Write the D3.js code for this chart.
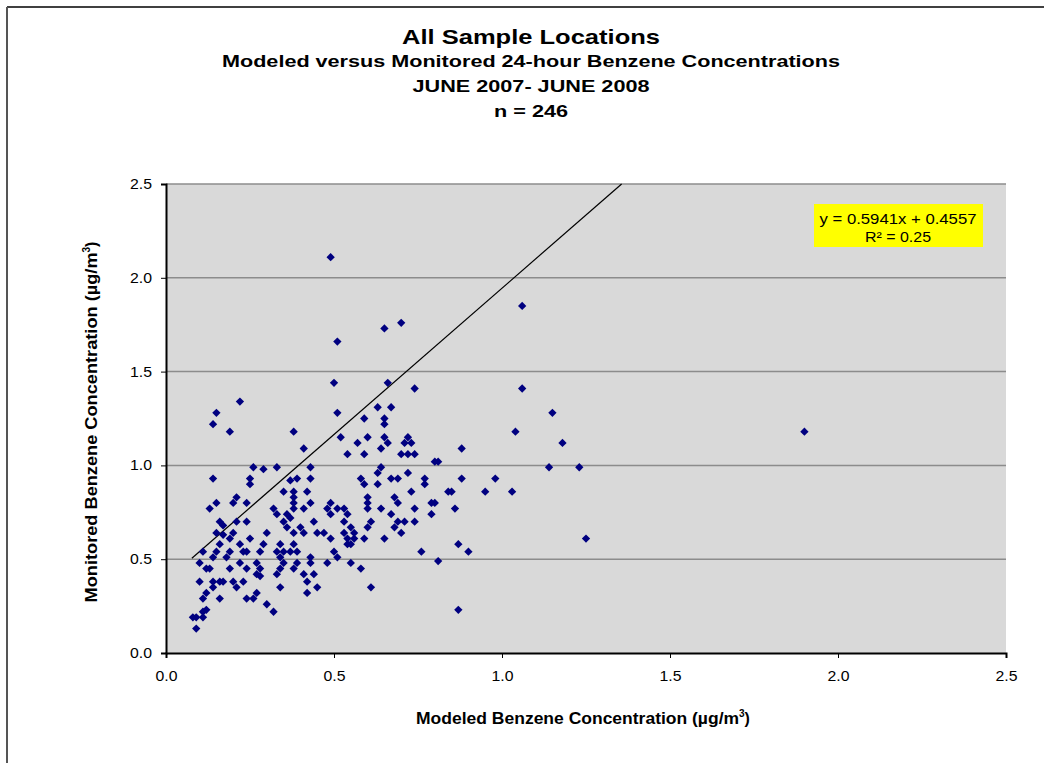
<!DOCTYPE html>
<html><head><meta charset="utf-8">
<script src="https://cdn.jsdelivr.net/npm/d3@7"></script>
<style>body{margin:0;background:#fff}svg{display:block;font-family:"Liberation Sans",Arial,sans-serif}</style>
</head><body><svg id="c" width="1044" height="763"></svg>
<script>
const titleLines = ["All Sample Locations","Modeled versus Monitored 24-hour Benzene Concentrations","JUNE 2007- JUNE 2008","n = 246"];
const xTicks = [0,0.5,1.0,1.5,2.0,2.5];
const yTicks = [0,0.5,1.0,1.5,2.0,2.5];
const modeled = [
0.22,0.15,0.14,0.19,0.38,0.41,0.26,0.29,0.33,0.43,0.14,0.25,0.39,0.37,0.43,0.25,0.35,0.38,0.42,0.21,0.38,
0.15,0.2,0.24,0.38,0.43,0.13,0.32,0.38,0.41,0.48,0.33,0.36,0.37,0.16,0.21,0.24,0.35,0.44,0.17,0.36,0.4,
0.15,0.2,0.3,0.38,0.41,0.45,0.47,0.17,0.19,0.25,0.16,0.22,0.29,0.34,0.38,
0.11,0.15,0.19,0.23,0.24,0.28,0.33,0.35,0.37,0.39,0.14,0.18,0.34,0.43,
0.1,0.22,0.27,0.35,0.39,0.43,0.48,0.12,0.13,0.19,0.24,0.28,0.34,0.38,
0.27,0.28,0.33,0.41,0.44,0.1,0.14,0.16,0.17,0.2,0.23,0.42,0.14,0.21,0.34,0.45,
0.12,0.27,0.42,0.11,0.16,0.24,0.26,0.3,0.11,0.12,0.32,0.08,0.09,0.11,0.09,
0.5,0.66,0.74,0.63,0.67,0.51,0.59,0.65,0.65,0.52,0.6,0.65,0.72,0.57,0.66,0.71,0.73,0.64,0.88,
0.54,0.59,0.7,0.72,0.74,0.8,0.81,0.64,0.63,0.72,0.58,0.67,0.69,0.77,0.88,0.59,0.63,0.77,
0.73,0.84,0.85,0.6,0.68,0.49,0.6,0.69,0.79,0.8,0.51,0.53,0.6,0.64,0.74,0.86,
0.49,0.54,0.67,0.79,0.53,0.61,0.69,0.71,0.74,0.55,0.6,0.68,0.53,0.56,0.7,
0.49,0.54,0.56,0.59,0.65,0.54,0.55,0.87,0.5,0.76,0.9,0.51,0.55,0.81,0.58,0.61,0.87,
1.06,1.06,1.15,1.04,1.18,1.14,1.23,0.98,0.95,1.03,1.25,1.9,
0.49,0.51,0.65,0.7
];
const monitored = [
1.34,1.28,1.22,1.18,1.18,1.09,0.99,0.98,0.99,0.99,0.93,0.93,0.93,0.92,0.93,0.9,0.86,0.86,0.86,0.83,0.83,
0.8,0.8,0.8,0.8,0.8,0.77,0.77,0.77,0.77,0.77,0.74,0.74,0.72,0.7,0.7,0.7,0.7,0.7,0.68,0.67,0.67,
0.64,0.64,0.64,0.64,0.64,0.64,0.64,0.63,0.61,0.61,0.58,0.58,0.58,0.58,0.58,
0.54,0.54,0.54,0.54,0.54,0.54,0.54,0.54,0.54,0.54,0.51,0.51,0.51,0.51,
0.48,0.48,0.48,0.48,0.48,0.48,0.48,0.45,0.45,0.45,0.45,0.45,0.45,0.45,
0.42,0.41,0.42,0.42,0.42,0.38,0.38,0.38,0.38,0.38,0.38,0.38,0.35,0.35,0.35,0.35,
0.32,0.32,0.32,0.29,0.29,0.29,0.29,0.26,0.22,0.23,0.22,0.19,0.19,0.19,0.13,
1.44,1.44,1.41,1.31,1.31,1.28,1.25,1.25,1.22,1.15,1.15,1.15,1.15,1.12,1.12,1.12,1.12,1.09,1.09,
1.06,1.06,1.06,1.06,1.06,1.02,1.02,0.99,0.96,0.96,0.93,0.93,0.93,0.93,0.93,0.9,0.9,0.9,
0.86,0.86,0.86,0.83,0.83,0.8,0.8,0.8,0.8,0.8,0.77,0.77,0.77,0.77,0.77,0.77,
0.74,0.74,0.74,0.74,0.7,0.7,0.7,0.7,0.7,0.67,0.67,0.67,0.64,0.64,0.64,
0.61,0.61,0.61,0.61,0.61,0.58,0.58,0.58,0.54,0.54,0.54,0.51,0.48,0.49,0.45,0.35,0.23,
1.85,1.41,1.28,1.18,1.12,0.99,0.99,0.93,0.86,0.86,0.61,1.18,
2.11,1.66,1.73,1.76
];
const lineX = [0.077,1.356];
const lineY = [0.505,2.5];
const eqText = ["y = 0.5941x + 0.4557","R² = 0.25"];

const svg = d3.select("#c");
const L=166,R=1006,T=184,B=653;
const x = d3.scaleLinear().domain([0,2.5]).range([L,R]);
const y = d3.scaleLinear().domain([0,2.5]).range([B,T]);

// outer border
svg.append("line").attr("x1",7).attr("x2",1044).attr("y1",7).attr("y2",7).attr("stroke","#000").attr("stroke-width",1.5);
svg.append("line").attr("x1",7).attr("x2",7).attr("y1",7).attr("y2",763).attr("stroke","#555").attr("stroke-width",2);

// titles
const tsz=[21,17,17,17], ty=[44,67,92,117], tlen=[258,618,237,74];
titleLines.forEach((t,i)=>svg.append("text").attr("x",531).attr("y",ty[i]).attr("text-anchor","middle")
  .attr("font-weight","bold").attr("font-size",tsz[i]).attr("textLength",tlen[i]).attr("lengthAdjust","spacingAndGlyphs").text(t));

// plot bg
svg.append("rect").attr("x",L).attr("y",T).attr("width",R-L).attr("height",B-T).attr("fill","#D9D9D9");
// grid
svg.append("g").selectAll("line").data(yTicks.filter(d=>d>0)).join("line")
  .attr("x1",L).attr("x2",R).attr("y1",d=>y(d)).attr("y2",d=>y(d)).attr("stroke","#8c8c8c").attr("stroke-width",1.5);

// axes
const yAxis = svg.append("g").attr("transform",`translate(${L},0)`)
  .call(d3.axisLeft(y).tickValues(yTicks).tickFormat(d3.format(".1f")).tickSize(5).tickPadding(9));
const xAxis = svg.append("g").attr("transform",`translate(0,${B})`)
  .call(d3.axisBottom(x).tickValues(xTicks).tickFormat(d3.format(".1f")).tickSize(5).tickPadding(13));
[yAxis,xAxis].forEach(a=>{
  a.select(".domain").attr("stroke","#000").attr("stroke-width",2);
  a.selectAll(".tick line").attr("stroke","#000");
  a.selectAll("text").attr("font-size",14).attr("fill","#000").attr("font-family","'Liberation Sans',Arial,sans-serif")
    .attr("textLength",22).attr("lengthAdjust","spacingAndGlyphs");
});

// reference line
svg.append("line").attr("x1",x(lineX[0])).attr("y1",y(lineY[0])).attr("x2",x(lineX[1])).attr("y2",y(lineY[1]))
  .attr("stroke","#000").attr("stroke-width",1.2);

// points
const pts = modeled.map((m,i)=>[m,monitored[i]]);
svg.append("g").selectAll("path").data(pts).join("path")
  .attr("transform",d=>`translate(${x(d[0])},${y(d[1])})`)
  .attr("d",d3.symbol(d3.symbolDiamond2,44)).attr("fill","#000080");

// equation box
svg.append("rect").attr("x",814).attr("y",204).attr("width",169).attr("height",43).attr("fill","#FFFF00");
svg.append("text").attr("x",898).attr("y",224).attr("text-anchor","middle").attr("font-size",15)
  .attr("textLength",157).attr("lengthAdjust","spacingAndGlyphs").text(eqText[0]);
svg.append("text").attr("x",898).attr("y",242).attr("text-anchor","middle").attr("font-size",15)
  .attr("textLength",66).attr("lengthAdjust","spacingAndGlyphs").text(eqText[1]);

// axis titles
const xt = svg.append("text").attr("x",583).attr("y",724).attr("text-anchor","middle").attr("font-weight","bold").attr("font-size",16);
xt.append("tspan").attr("textLength",323).attr("lengthAdjust","spacingAndGlyphs").text("Modeled Benzene Concentration (µg/m");
xt.append("tspan").attr("font-size",10).attr("dy",-7).text("3");
xt.append("tspan").attr("dy",7).text(")");
const yt = svg.append("text").attr("transform","translate(97,422) rotate(-90)").attr("text-anchor","middle").attr("font-weight","bold").attr("font-size",16);
yt.append("tspan").attr("textLength",350).attr("lengthAdjust","spacingAndGlyphs").text("Monitored Benzene Concentration (µg/m");
yt.append("tspan").attr("font-size",10).attr("dy",-7).text("3");
yt.append("tspan").attr("dy",7).text(")");
</script></body></html>
